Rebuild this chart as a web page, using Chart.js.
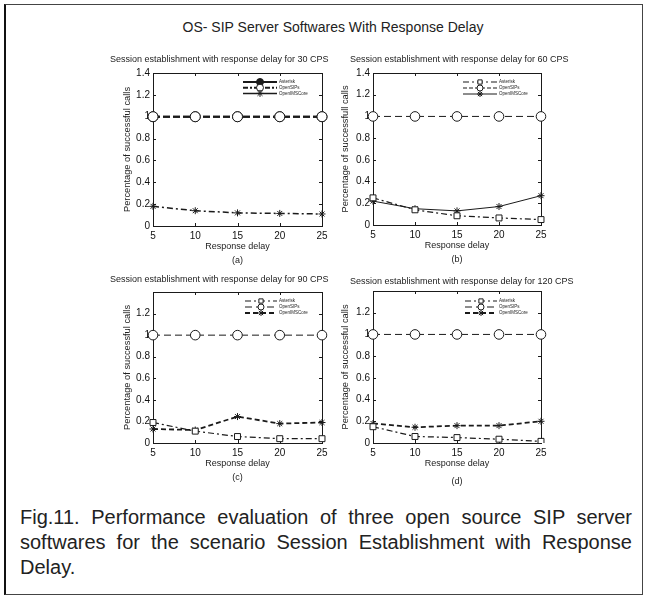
<!DOCTYPE html>
<html>
<head>
<meta charset="utf-8">
<script src="https://cdn.jsdelivr.net/npm/chart.js@4.4.1/dist/chart.umd.min.js"></script>
<style>
  body { margin: 0; background: #fff; width: 652px; height: 599px; position: relative; overflow: hidden;
         font-family: "Liberation Sans", Arial, sans-serif; color: #222; }
  #frame { position: absolute; left: 4px; top: 4px; width: 639px; height: 591px;
           border: 1px solid #444; border-left: 2px solid #111; box-sizing: border-box; }
  #title { position: absolute; left: 0; width: 666px; top: 19px; text-align: center; font-size: 14px; line-height: 16px; }
  canvas { position: absolute; }
  .cap { position: absolute; left: 20px; width: 612px; font-size: 20px; line-height: 25px; white-space: nowrap; }
  .just { text-align: justify; text-align-last: justify; white-space: normal; }
</style>
</head>
<body>
<div id="frame"></div>
<div id="title">OS- SIP Server Softwares With Response Delay</div>
<canvas id="c30" width="245" height="220" style="left:100px;top:50px"></canvas>
<canvas id="c60" width="256" height="219" style="left:330px;top:50px"></canvas>
<canvas id="c90" width="245" height="217" style="left:100px;top:270px"></canvas>
<canvas id="c120" width="256" height="223" style="left:330px;top:270px"></canvas>
<div class="cap just" style="top:505px">Fig.11. Performance evaluation of three open source SIP server</div>
<div class="cap just" style="top:530px">softwares for the scenario Session Establishment with Response</div>
<div class="cap" style="top:555px">Delay.</div>
<script>
// values
const delays = ['5', '10', '15', '20', '25'];
const yTickValues = [0, 0.2, 0.4, 0.6, 0.8, 1, 1.2, 1.4];
const seriesNames = ['Asterisk', 'OpenSIPs', 'OpenIMSCore'];

const asterisk30 = [1, 1, 1, 1, 1];
const opensips30 = [1, 1, 1, 1, 1];
const openims30 = [0.18, 0.14, 0.12, 0.115, 0.11];

const asterisk60 = [0.25, 0.14, 0.085, 0.065, 0.05];
const opensips60 = [1, 1, 1, 1, 1];
const openims60 = [0.22, 0.15, 0.13, 0.17, 0.27];

const asterisk90 = [0.19, 0.11, 0.06, 0.04, 0.04];
const opensips90 = [1, 1, 1, 1, 1];
const openims90 = [0.13, 0.12, 0.245, 0.18, 0.19];

const asterisk120 = [0.15, 0.06, 0.05, 0.035, 0.015];
const opensips120 = [1, 1, 1, 1, 1];
const openims120 = [0.18, 0.145, 0.16, 0.16, 0.2];

Chart.defaults.font.family = '"Liberation Sans", Arial, sans-serif';
Chart.defaults.color = '#222';
Chart.defaults.animation = false;

const INK = '#1a1a1a';
const FONT = '"Liberation Sans", Arial, sans-serif';

// matlab-like box with inward ticks
const axesBox = {
  id: 'axesBox',
  beforeDatasetsDraw(chart) {
    const { ctx, chartArea: a, scales: { x, y } } = chart;
    ctx.save();
    ctx.strokeStyle = INK;
    ctx.lineWidth = 1;
    ctx.strokeRect(Math.round(a.left) + 0.5, Math.round(a.top) + 0.5, Math.round(a.width), Math.round(a.height));
    ctx.beginPath();
    x.ticks.forEach((t, i) => {
      const px = Math.round(x.getPixelForTick(i)) + 0.5;
      ctx.moveTo(px, a.bottom); ctx.lineTo(px, a.bottom - 3);
      ctx.moveTo(px, a.top); ctx.lineTo(px, a.top + 3);
    });
    y.ticks.forEach((t, i) => {
      const py = Math.round(y.getPixelForTick(i)) + 0.5;
      ctx.moveTo(a.left, py); ctx.lineTo(a.left + 3, py);
      ctx.moveTo(a.right, py); ctx.lineTo(a.right - 3, py);
    });
    ctx.stroke();
    ctx.restore();
  }
};

// panel heading, left-anchored like the scanned figure
const panelTitle = {
  id: 'panelTitle',
  afterDraw(chart, args, o) {
    const ctx = chart.ctx;
    ctx.save();
    ctx.font = o.size + 'px ' + FONT;
    ctx.fillStyle = '#222';
    ctx.textAlign = 'left';
    ctx.textBaseline = 'middle';
    ctx.fillText(o.text, o.x, o.y);
    ctx.restore();
  }
};

// small legend sitting inside the plot, top right
const insideLegend = {
  id: 'insideLegend',
  afterDatasetsDraw(chart, args, opts) {
    const { ctx, chartArea: a } = chart;
    ctx.save();
    chart.data.datasets.forEach((ds, i) => {
      const y = a.top + opts.top + i * opts.rowGap;
      const x0 = a.right - opts.right;
      ctx.strokeStyle = INK;
      ctx.lineWidth = ds.borderWidth;
      ctx.setLineDash(ds.legendDash || ds.borderDash || []);
      ctx.beginPath();
      ctx.moveTo(x0, y);
      ctx.lineTo(x0 + opts.lineLen, y);
      ctx.stroke();
      ctx.setLineDash([]);
      ctx.fillStyle = ds.pointBackgroundColor;
      ctx.strokeStyle = INK;
      ctx.lineWidth = 1;
      Chart.helpers.drawPoint(ctx, { pointStyle: ds.pointStyle, radius: opts.markerRadius, borderWidth: 1 },
        x0 + opts.lineLen / 2, y);
      ctx.fillStyle = '#222';
      ctx.font = '4.5px ' + FONT;
      ctx.textBaseline = 'middle';
      ctx.fillText(ds.label, x0 + opts.lineLen + 2, y);
    });
    ctx.restore();
  }
};

function series(label, data, style) {
  return Object.assign({
    label: label,
    data: data,
    borderColor: INK,
    pointBorderColor: INK,
    pointBackgroundColor: '#fff',
    pointBorderWidth: 1,
    tension: 0,
    fill: false
  }, style);
}

function makePanel(id, p) {
  new Chart(document.getElementById(id), {
    type: 'line',
    data: { labels: delays, datasets: p.datasets },
    options: {
      responsive: false,
      layout: { padding: p.padding },
      plugins: {
        legend: { display: false },
        tooltip: { enabled: false },
        title: { display: false },
        panelTitle: { text: p.title, x: p.titleX, y: p.titleY, size: 9 },
        insideLegend: p.legend
      },
      scales: {
        x: {
          type: 'category', offset: false,
          grid: { display: false, drawTicks: false }, border: { display: false },
          ticks: { font: { size: 10 }, padding: 4, maxRotation: 0, color: '#111' },
          title: { display: true, text: ['Response delay', p.tag], font: { size: 9, lineHeight: p.xLine }, padding: 0, color: '#222' },
          afterFit: s => { s.height = p.xHeight; }
        },
        y: {
          min: 0, max: 1.4,
          grid: { display: false, drawTicks: false }, border: { display: false },
          afterBuildTicks: s => { s.ticks = yTickValues.map(v => ({ value: v })); },
          ticks: {
            font: { size: 10 }, padding: 3, color: '#111',
            callback: v => (p.hideTop && v === 1.4 ? '' : String(v))
          },
          title: { display: true, text: p.yTitle, font: { size: 9.3 }, padding: { top: p.yTitlePad, bottom: 0 }, color: '#222' },
          afterFit: s => { s.width = p.yWidth; }
        }
      }
    },
    plugins: [axesBox, insideLegend, panelTitle]
  });
}

makePanel('c30', {
  title: 'Session establishment with response delay for 30 CPS', titleX: 10, titleY: 10,
  padding: { left: 15, right: 23, top: 23, bottom: 2 },
  yWidth: 38, yTitlePad: 6.4, yTitle: 'Percentage of successful calls',
  xHeight: 42, xLine: 14 / 9, tag: '(a)', hideTop: false,
  legend: { top: 9, rowGap: 5.7, right: 79, lineLen: 34, markerRadius: 3.5 },
  datasets: [
    series(seriesNames[0], asterisk30, { borderWidth: 2, borderDash: [7, 3], legendDash: [], pointStyle: 'circle', pointRadius: 5, pointBackgroundColor: INK, order: 1 }),
    series(seriesNames[1], opensips30, { borderWidth: 2, borderDash: [7, 3], legendDash: [5, 2, 2, 2], pointStyle: 'circle', pointRadius: 5, order: 0 }),
    series(seriesNames[2], openims30, { borderWidth: 1.5, borderDash: [6, 3, 2, 3], legendDash: [], pointStyle: 'star', pointRadius: 3.5, order: 2 })
  ]
});

makePanel('c60', {
  title: 'Session establishment with response delay for 60 CPS', titleX: 20, titleY: 10,
  padding: { left: 9, right: 45, top: 23, bottom: 2 },
  yWidth: 34, yTitlePad: 0.4, yTitle: 'Percentage of successfull calls',
  xHeight: 42, xLine: 14 / 9, tag: '(b)', hideTop: false,
  legend: { top: 9, rowGap: 6, right: 78, lineLen: 34, markerRadius: 3 },
  datasets: [
    series(seriesNames[0], asterisk60, { borderWidth: 1.2, borderDash: [6, 3, 2, 3], pointStyle: 'rect', pointRadius: 4.2 }),
    series(seriesNames[1], opensips60, { borderWidth: 1, borderDash: [7, 4], legendDash: [4, 2], pointStyle: 'circle', pointRadius: 4.8 }),
    series(seriesNames[2], openims60, { borderWidth: 1, borderDash: [], pointStyle: 'star', pointRadius: 3.5 })
  ]
});

makePanel('c90', {
  title: 'Session establishment with response delay for 90 CPS', titleX: 10, titleY: 10,
  padding: { left: 15, right: 23, top: 22, bottom: 2 },
  yWidth: 38, yTitlePad: 6.4, yTitle: 'Percentage of successful calls',
  xHeight: 42, xLine: 14 / 9, tag: '(c)', hideTop: true,
  legend: { top: 9, rowGap: 6, right: 77, lineLen: 32, markerRadius: 3 },
  datasets: [
    series(seriesNames[0], asterisk90, { borderWidth: 1.2, borderDash: [6, 3, 2, 3], pointStyle: 'rect', pointRadius: 4.2 }),
    series(seriesNames[1], opensips90, { borderWidth: 1, borderDash: [7, 4], pointStyle: 'circle', pointRadius: 4.8 }),
    series(seriesNames[2], openims90, { borderWidth: 1.8, borderDash: [5, 3], pointStyle: 'star', pointRadius: 3.5 })
  ]
});

makePanel('c120', {
  title: 'Session establishment with response delay for 120 CPS', titleX: 20, titleY: 12,
  padding: { left: 9, right: 45, top: 21, bottom: 2 },
  yWidth: 34, yTitlePad: 0.4, yTitle: 'Percentage of successful calls',
  xHeight: 48, xLine: 2, tag: '(d)', hideTop: true,
  legend: { top: 10, rowGap: 6, right: 76, lineLen: 32, markerRadius: 3 },
  datasets: [
    series(seriesNames[0], asterisk120, { borderWidth: 1.2, borderDash: [6, 3, 2, 3], pointStyle: 'rect', pointRadius: 4.2 }),
    series(seriesNames[1], opensips120, { borderWidth: 1, borderDash: [7, 4], pointStyle: 'circle', pointRadius: 4.8 }),
    series(seriesNames[2], openims120, { borderWidth: 1.8, borderDash: [5, 3], pointStyle: 'star', pointRadius: 3.5 })
  ]
});
</script>
</body>
</html>
